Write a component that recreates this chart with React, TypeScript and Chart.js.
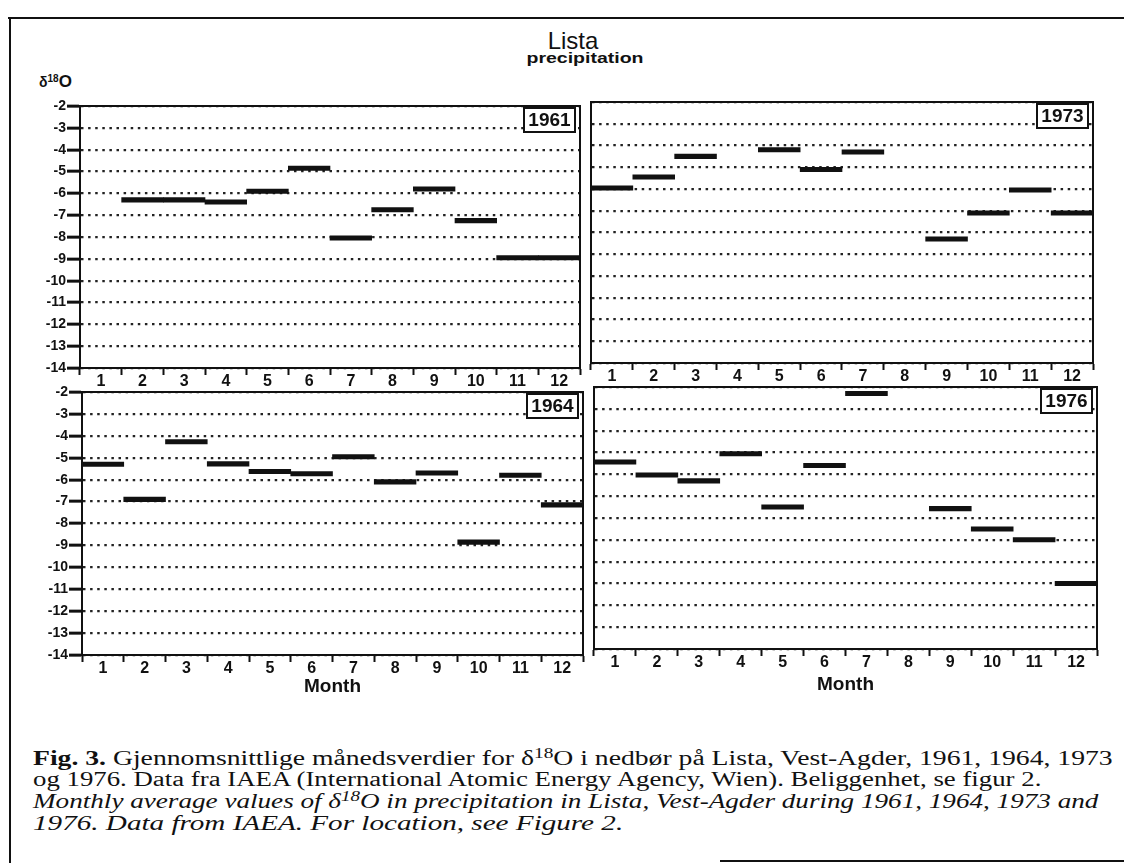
import React, { useEffect, useLayoutEffect, useRef } from 'react';
import { Chart, registerables } from 'chart.js';

Chart.register(...registerables);

// ---- data ----
const MONTHS = ['1', '2', '3', '4', '5', '6', '7', '8', '9', '10', '11', '12'];
const Y_MIN = -14;
const Y_MAX = -2;
const D18O_1961: (number | null)[] = [null, -6.3, -6.3, -6.4, -5.9, -4.85, -8.05, -6.75, -5.8, -7.25, -8.95, -8.95];
const D18O_1973: (number | null)[] = [-5.95, -5.45, -4.5, null, -4.2, -5.1, -4.3, null, -8.3, -7.1, -6.05, -7.1];
const D18O_1964: (number | null)[] = [-5.3, -6.9, -4.27, -5.28, -5.63, -5.73, -4.95, -6.1, -5.7, -8.85, -5.8, -7.15];
const D18O_1976: (number | null)[] = [-5.43, -6.03, -6.3, -5.06, -7.5, -5.6, -2.3, null, -7.57, -8.5, -9.0, -11.0];

// ---- style / layout ----
const SANS = '"Liberation Sans", Arial, Helvetica, sans-serif';
const SERIF = '"Liberation Serif", "Times New Roman", Times, serif';
const INK = '#111';
const BAR_HALF = 0.1; // half thickness of the monthly mark, in axis units
const PAD_TOP = 12;
const PAD_RIGHT = 4;

type PanelSpec = {
  year: string;
  values: (number | null)[];
  left: number;
  top: number;
  right: number;
  bottom: number;
  yAxis: boolean;
  month: boolean;
  axisH: number;
};

const PANELS: PanelSpec[] = [
  { year: '1961', values: D18O_1961, left: 80, top: 106, right: 580, bottom: 368, yAxis: true, month: false, axisH: 26 },
  { year: '1973', values: D18O_1973, left: 591, top: 102, right: 1093, bottom: 363, yAxis: false, month: false, axisH: 26 },
  { year: '1964', values: D18O_1964, left: 82, top: 392, right: 583, bottom: 655, yAxis: true, month: true, axisH: 43 },
  { year: '1976', values: D18O_1976, left: 594, top: 387, right: 1097, bottom: 649, yAxis: false, month: true, axisH: 47 },
];

const framePlugin = {
  id: 'frame',
  afterDraw(chart: any, _args: any, opts: any) {
    const { ctx, chartArea: a } = chart;
    ctx.save();
    ctx.strokeStyle = INK;
    ctx.lineWidth = 2;
    ctx.setLineDash([]);
    ctx.strokeRect(a.left, a.top, a.right - a.left, a.bottom - a.top);
    const bw = 51;
    const bh = 24;
    const bx = a.right - 5 - bw;
    const by = a.top + 2;
    ctx.fillStyle = '#fff';
    ctx.fillRect(bx, by, bw, bh);
    ctx.strokeRect(bx, by, bw, bh);
    ctx.fillStyle = INK;
    ctx.font = `bold 19px ${SANS}`;
    ctx.textAlign = 'center';
    ctx.textBaseline = 'middle';
    ctx.fillText(opts.year, bx + bw / 2, by + bh / 2 + 1);
    ctx.restore();
  },
};

function Panel({ spec }: { spec: PanelSpec }) {
  const ref = useRef<HTMLCanvasElement>(null);
  const yW = spec.yAxis ? 60 : 4;
  const width = yW + (spec.right - spec.left) + PAD_RIGHT;
  const height = PAD_TOP + (spec.bottom - spec.top) + spec.axisH;

  useEffect(() => {
    if (!ref.current) return;
    const chart = new Chart(ref.current, {
      type: 'bar',
      data: {
        labels: MONTHS,
        datasets: [
          {
            data: spec.values.map((v) => (v == null ? null : [v - BAR_HALF, v + BAR_HALF])) as any,
            backgroundColor: INK,
            borderWidth: 0,
            barPercentage: 1,
            categoryPercentage: 1,
          },
        ],
      },
      options: {
        responsive: false,
        maintainAspectRatio: false,
        animation: false,
        events: [],
        layout: { padding: { top: PAD_TOP, right: PAD_RIGHT, left: 0, bottom: 0 } },
        plugins: {
          legend: { display: false },
          tooltip: { enabled: false },
          title: { display: false },
          frame: { year: spec.year },
        } as any,
        scales: {
          x: {
            type: 'category',
            offset: true,
            grid: {
              display: true,
              offset: true,
              drawOnChartArea: false,
              drawTicks: true,
              tickLength: 7,
              tickWidth: 2,
              tickColor: INK,
            },
            border: { display: true, color: INK, width: 2 },
            ticks: {
              color: INK,
              font: { family: SANS, size: 16, weight: 'bold' },
              padding: -3,
              maxRotation: 0,
              autoSkip: false,
            },
            title: {
              display: spec.month,
              text: 'Month',
              color: INK,
              font: { family: SANS, size: 19, weight: 'bold' },
              padding: 0,
            },
            afterFit: (s: any) => {
              s.height = spec.axisH;
            },
          },
          y: {
            type: 'linear',
            min: Y_MIN,
            max: Y_MAX,
            ticks: {
              display: spec.yAxis,
              stepSize: 1,
              color: INK,
              font: { family: SANS, size: 14, weight: 'bold' },
              padding: 1,
              callback: (v: any) => String(v),
            },
            grid: {
              display: true,
              color: '#222',
              lineWidth: 2.3,
              drawTicks: spec.yAxis,
              tickLength: 13,
              tickWidth: 3,
              tickColor: INK,
              tickBorderDash: [],
            },
            border: { display: true, color: INK, width: 2, dash: [2.5, 4.6] },
            afterFit: (s: any) => {
              s.width = yW;
            },
          },
        } as any,
      },
      plugins: [framePlugin],
    });
    return () => chart.destroy();
  }, []);

  return (
    <canvas
      ref={ref}
      width={width}
      height={height}
      style={{
        position: 'absolute',
        left: spec.left - yW,
        top: spec.top - PAD_TOP,
        width,
        height,
      }}
    />
  );
}

const sup: React.CSSProperties = { fontSize: 14, position: 'relative', top: -7 };

function CaptionLine({
  top,
  target,
  italic,
  children,
}: {
  top: number;
  target: number;
  italic?: boolean;
  children: React.ReactNode;
}) {
  const ref = useRef<HTMLDivElement>(null);
  useLayoutEffect(() => {
    const el = ref.current;
    if (!el) return;
    const w = el.scrollWidth;
    if (w > 0) el.style.transform = `scaleX(${target / w})`;
  }, []);
  return (
    <div
      ref={ref}
      style={{
        position: 'absolute',
        left: 33,
        top,
        whiteSpace: 'nowrap',
        fontFamily: SERIF,
        fontSize: 20,
        lineHeight: '22px',
        fontStyle: italic ? 'italic' : 'normal',
        color: INK,
        transformOrigin: '0 0',
        display: 'inline-block',
      }}
    >
      {children}
    </div>
  );
}

export default function App() {
  return (
    <div
      style={{
        position: 'absolute',
        left: 0,
        top: 0,
        width: 1124,
        height: 863,
        background: '#fff',
        overflow: 'hidden',
        color: INK,
      }}
    >
      {/* frame */}
      <div style={{ position: 'absolute', left: 8, top: 17, width: 1116, height: 2, background: INK }} />
      <div style={{ position: 'absolute', left: 9, top: 17, width: 2, height: 846, background: INK }} />
      <div style={{ position: 'absolute', left: 720, top: 860, width: 404, height: 2, background: INK }} />

      {/* titles */}
      <div
        style={{
          position: 'absolute',
          left: 473,
          top: 29,
          width: 200,
          textAlign: 'center',
          fontFamily: SANS,
          fontSize: 24,
          lineHeight: '24px',
        }}
      >
        Lista
      </div>
      <div
        style={{
          position: 'absolute',
          left: 485,
          top: 50,
          width: 200,
          textAlign: 'center',
          fontFamily: SANS,
          fontWeight: 'bold',
          fontSize: 15,
          lineHeight: '15px',
          transform: 'scaleX(1.3)',
        }}
      >
        precipitation
      </div>
      <div
        style={{
          position: 'absolute',
          left: 39,
          top: 74,
          fontFamily: SANS,
          fontWeight: 'bold',
          fontSize: 14,
          lineHeight: '16px',
          whiteSpace: 'nowrap',
        }}
      >
        δ<span style={{ fontSize: 10, position: 'relative', top: -5 }}>18</span>
        <span style={{ fontSize: 17 }}>O</span>
      </div>

      {PANELS.map((p) => (
        <Panel key={p.year} spec={p} />
      ))}

      {/* caption */}
      <CaptionLine top={747} target={1079}>
        <b>Fig. 3.</b> Gjennomsnittlige månedsverdier for δ<span style={sup}>18</span>O i nedbør på Lista, Vest-Agder,
        1961, 1964, 1973
      </CaptionLine>
      <CaptionLine top={768} target={1009}>
        og 1976. Data fra IAEA (International Atomic Energy Agency, Wien). Beliggenhet, se figur 2.
      </CaptionLine>
      <CaptionLine top={790} target={1065} italic>
        Monthly average values of δ<span style={sup}>18</span>O in precipitation in Lista, Vest-Agder during 1961,
        1964, 1973 and
      </CaptionLine>
      <CaptionLine top={812} target={590} italic>
        1976. Data from IAEA. For location, see Figure 2.
      </CaptionLine>
    </div>
  );
}
